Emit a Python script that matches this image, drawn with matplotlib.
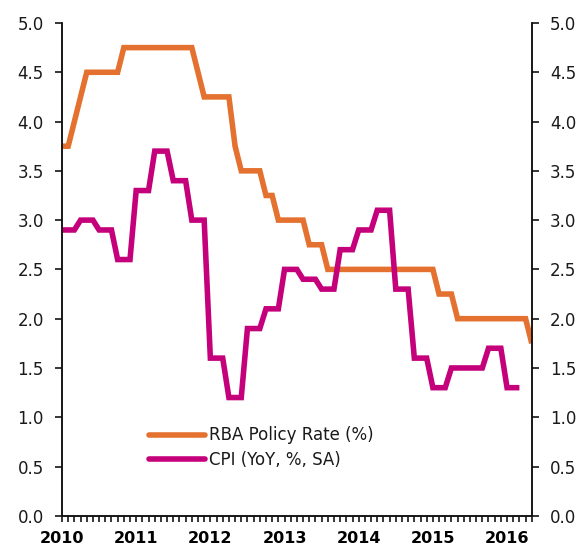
import numpy as np
import matplotlib
matplotlib.use("Agg")
import matplotlib.pyplot as plt

# RBA cash rate target, monthly Jan 2010 - May 2016
rba_rate = [
    3.75, 3.75, 4.00, 4.25, 4.50, 4.50, 4.50, 4.50, 4.50, 4.50, 4.75, 4.75,  # 2010
    4.75, 4.75, 4.75, 4.75, 4.75, 4.75, 4.75, 4.75, 4.75, 4.75, 4.50, 4.25,  # 2011
    4.25, 4.25, 4.25, 4.25, 3.75, 3.50, 3.50, 3.50, 3.50, 3.25, 3.25, 3.00,  # 2012
    3.00, 3.00, 3.00, 3.00, 2.75, 2.75, 2.75, 2.50, 2.50, 2.50, 2.50, 2.50,  # 2013
    2.50, 2.50, 2.50, 2.50, 2.50, 2.50, 2.50, 2.50, 2.50, 2.50, 2.50, 2.50,  # 2014
    2.50, 2.25, 2.25, 2.25, 2.00, 2.00, 2.00, 2.00, 2.00, 2.00, 2.00, 2.00,  # 2015
    2.00, 2.00, 2.00, 2.00, 1.75,                                            # 2016
]

# CPI YoY (%, SA), quarterly Q1 2010 - Q1 2016
cpi_quarterly = [
    2.9, 3.0, 2.9, 2.6,
    3.3, 3.7, 3.4, 3.0,
    1.6, 1.2, 1.9, 2.1,
    2.5, 2.4, 2.3, 2.7,
    2.9, 3.1, 2.3, 1.6,
    1.3, 1.5, 1.5, 1.7,
    1.3,
]

years = ["2010", "2011", "2012", "2013", "2014", "2015", "2016"]
y_ticks = [0.0, 0.5, 1.0, 1.5, 2.0, 2.5, 3.0, 3.5, 4.0, 4.5, 5.0]

orange = "#E4712F"
magenta = "#C4007A"

plt.rcParams['font.family'] = ['DejaVu Sans']

# each quarterly value is shown for its three months
cpi_monthly = np.repeat(cpi_quarterly, 3)
x_rba = np.arange(len(rba_rate))
x_cpi = np.arange(len(cpi_monthly))

fig = plt.figure(figsize=(5.85, 5.47), dpi=100)
ax = fig.add_axes([0.106, 0.057, 0.803, 0.901])
ax2 = ax.twinx()

ax.plot(x_rba, rba_rate, color=orange, lw=4, solid_capstyle='butt',
        solid_joinstyle='miter', label='RBA Policy Rate (%)')
ax.plot(x_cpi, cpi_monthly, color=magenta, lw=4, solid_capstyle='butt',
        solid_joinstyle='miter', label='CPI (YoY, %, SA)')

ax.set_xlim(0, len(rba_rate) - 1)
for a in (ax, ax2):
    a.set_ylim(0, 5)
    a.set_yticks(y_ticks)
    a.set_yticklabels([f"{v:.1f}" for v in y_ticks])
    a.spines['top'].set_visible(False)
    for s in a.spines.values():
        s.set_linewidth(1.1)
        s.set_color('#111111')
    a.tick_params(axis='y', length=5, width=1.1, pad=8, labelsize=12,
                  labelcolor='#1a1a1a')

ax.set_xticks(np.arange(0, len(rba_rate)), minor=True)
ax.set_xticks(np.arange(0, len(years) * 12, 12))
ax.set_xticklabels(years, fontweight='bold', fontsize=11.5)
ax.tick_params(axis='x', which='both', length=4, width=1.1, pad=7)

leg = ax.legend(loc='upper left', bbox_to_anchor=(0.17, 0.195), frameon=False,
                fontsize=12, handlelength=3.4, handletextpad=0.2,
                labelspacing=0.38, borderaxespad=0)
for h in leg.get_lines():
    h.set_solid_capstyle('round')
for t in leg.get_texts():
    t.set_color('#1a1a1a')

fig.savefig("out.png", dpi=100)
